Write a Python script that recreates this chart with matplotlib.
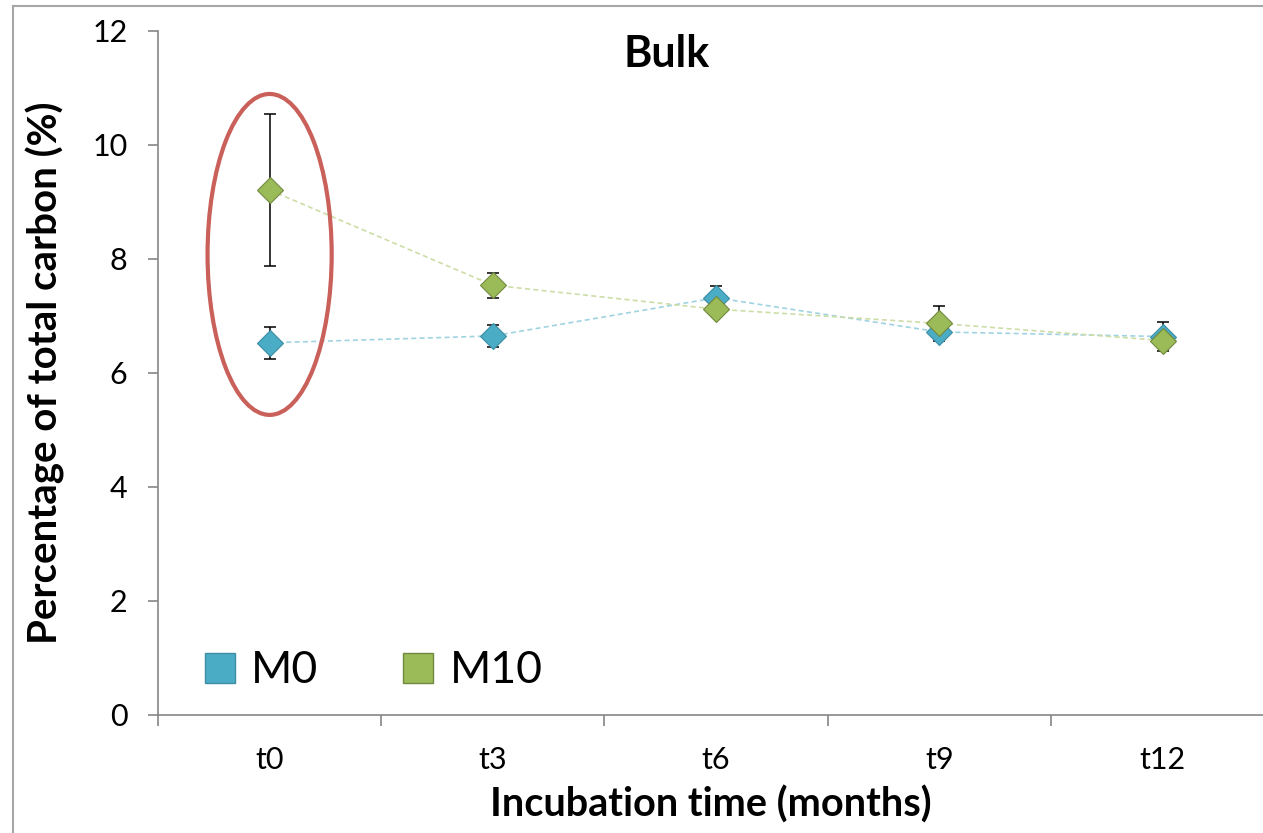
import matplotlib.pyplot as plt
from matplotlib.patches import Ellipse
from matplotlib.lines import Line2D

plt.rcParams['font.family'] = ['Lato', 'DejaVu Sans']

times = ['t0', 't3', 't6', 't9', 't12']
m0 = [6.53, 6.65, 7.32, 6.72, 6.64]
m0_err = [0.28, 0.2, 0.2, 0.1, 0.25]
m10 = [9.21, 7.54, 7.12, 6.87, 6.57]
m10_err = [1.33, 0.22, 0.1, 0.3, 0.1]

blue = '#4BACC6'
green = '#9BBB59'

fig = plt.figure(figsize=(12.63, 8.33), dpi=100)
ax = fig.add_axes([158/1263, 118/833, 1105/1263, 684/833])

x = list(range(len(times)))

# error bars first, markers on top of them
ax.errorbar(x, m0, yerr=m0_err, fmt='none', ecolor='black', elinewidth=1.1,
            capsize=4, capthick=1.1, zorder=2)
ax.errorbar(x, m10, yerr=m10_err, fmt='none', ecolor='black', elinewidth=1.1,
            capsize=4, capthick=1.1, zorder=2)
ax.plot(x, m0, linestyle=(0, (3, 2)), color='#9FD3E2', lw=1.2, zorder=1)
ax.plot(x, m10, linestyle=(0, (3, 2)), color='#CCDDA6', lw=1.2, zorder=1)
ax.plot(x, m0, 'D', ms=13, mfc=blue, mec='#3D8EA4', mew=0.8, zorder=3)
ax.plot(x, m10, 'D', ms=13, mfc=green, mec='#71893F', mew=0.8, zorder=4)

# highlight t0
ax.add_patch(Ellipse((0, 8.08), 0.556, 5.63, fill=False, ec='#C9605A', lw=3, zorder=5))

ax.set_xlim(-0.5, 4.45)
ax.set_ylim(0, 12)
ax.set_yticks(range(0, 13, 2))
ax.set_xticks([i - 0.5 for i in range(len(times))])
ax.set_xticklabels([])
ax.set_xticks(x, minor=True)
ax.set_xticklabels(times, minor=True)
ax.tick_params(axis='x', which='minor', length=0, pad=22, labelsize=22)
ax.tick_params(axis='x', which='major', length=8, width=1.2, color='#868686', direction='out')
ax.tick_params(axis='y', length=7, width=1.2, color='#868686', pad=15, labelsize=22)

for s in ['top', 'right']:
    ax.spines[s].set_visible(False)
for s in ['left', 'bottom']:
    ax.spines[s].set_color('#868686')
    ax.spines[s].set_linewidth(1.2)

ax.text(0.46, 0.995, 'Bulk', transform=ax.transAxes, ha='center', va='top',
        fontsize=31, fontweight='bold')
ax.set_ylabel('Percentage of total carbon (%)', fontsize=29, fontweight='bold', va='center')
ax.yaxis.set_label_coords(-0.102, 0.5)
ax.set_xlabel('Incubation time (months)', fontsize=28.5, fontweight='bold', va='center')
ax.xaxis.set_label_coords(0.5, -0.1316)

handles = [Line2D([], [], marker='s', ls='none', ms=21, mfc=blue, mec='#3D8EA4', mew=1),
           Line2D([], [], marker='s', ls='none', ms=21, mfc=green, mec='#71893F', mew=1)]
ax.legend(handles, ['M0', 'M10'], loc='lower left', bbox_to_anchor=(0.04, 0.035),
          ncol=2, frameon=False, fontsize=32, handlelength=0.8, handletextpad=0.3,
          columnspacing=1.85, borderpad=0, borderaxespad=0)

# grey frame around the picture (top and left visible)
fig.add_artist(Line2D([13/1263, 1], [1 - 6/833, 1 - 6/833], color='#A6A6A6', lw=1.5))
fig.add_artist(Line2D([13/1263, 13/1263], [0, 1 - 6/833], color='#A6A6A6', lw=1.5))

fig.savefig('out.png', dpi=100)
